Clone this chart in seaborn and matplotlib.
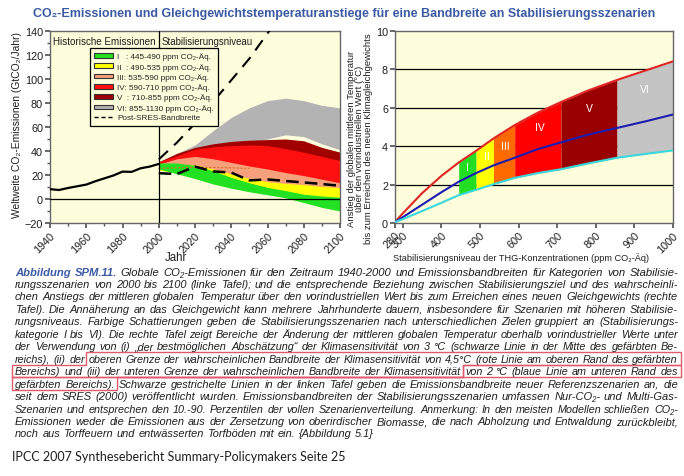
import numpy as np
import pandas as pd
import matplotlib
matplotlib.use("Agg")
import matplotlib.pyplot as plt
import seaborn as sns
from matplotlib import font_manager
from matplotlib.patches import Patch, Polygon
from matplotlib.lines import Line2D
from matplotlib.ticker import MultipleLocator

# === DATA: left panel (GtCO2 / Jahr) ===
hist_years = [1940, 1945, 1950, 1955, 1960, 1965, 1970, 1975, 1980, 1985, 1990, 1995, 2000]
hist_emis = [8.2, 7.5, 9.2, 10.6, 12.0, 14.8, 17.2, 19.6, 22.8, 22.6, 25.6, 27.0, 29.2]

sres_up_years = [2000, 2010, 2020, 2030, 2040, 2050, 2060, 2066]
sres_up = [33, 47, 63, 81, 99, 117, 138, 150]

scen_years = [2000, 2010, 2020, 2030, 2040, 2050, 2060, 2070, 2080, 2090, 2100]
sres_low = [21.5, 20.8, 27.0, 23.0, 22.0, 15.5, 16.3, 15.0, 13.8, 12.5, 11.0]
orange_years = [2000, 2010, 2020, 2030, 2040, 2050]
orange_vals = [25.5, 26.0, 26.5, 26.3, 26.0, 25.5]

band_I_low = [25, 21, 17, 12.5, 9, 6, 3.5, 1, -3, -7, -10]
band_I_up = [30, 30, 28, 23.5, 18, 13.5, 9.7, 7, 4, 2.5, 1.5]
band_II_low = [24, 22, 20, 16, 12, 9, 6, 4, 3, 2, 1]
band_II_up = [28, 29, 28.5, 25, 21, 17, 14.5, 13, 12, 10.5, 9.5]
band_III_low = [24, 24, 23, 20, 17, 14, 12, 11, 10, 9.5, 9]
band_III_up = [29, 33.5, 35.5, 33.5, 30.5, 27.5, 25, 22, 19.5, 16.5, 13.5]
band_IV_low = [26, 28, 29, 27, 25, 22, 20, 18, 16, 14, 12]
band_IV_up = [31, 36, 41.5, 43.5, 44.5, 45, 44.5, 42, 39, 35.5, 32]
band_V_low = [27, 31, 34, 36, 37, 38, 38, 36, 33, 30, 28]
band_V_up = [31, 38, 43, 46, 48, 49, 49.5, 50, 48.5, 43, 39]
band_VI_low = [29, 33, 38, 41, 44, 47, 50, 53.5, 52, 46, 41]
band_VI_up = [31, 38, 45, 57, 68, 76, 82, 84, 82, 78, 76]

cat_names = ["I   ", "II  ", "III", "IV", "V  ", "VI"]
cat_ranges = ["445-490", "490-535", "535-590", "590-710", "710-855", "855-1130"]

# === DATA: right panel (ppm CO2-Aeq, degC) ===
conc = [280, 300, 350, 400, 445, 490, 535, 590, 650, 710, 780, 855, 930, 1000]
t_high = [0.05, 0.5, 1.55, 2.45, 3.15, 3.76, 4.4, 5.1, 5.75, 6.3, 6.9, 7.45, 7.95, 8.42]
t_best = [0.05, 0.3, 0.95, 1.6, 2.15, 2.6, 3.0, 3.4, 3.85, 4.2, 4.6, 4.95, 5.3, 5.65]
t_low = [0.05, 0.2, 0.62, 1.05, 1.45, 1.73, 2.02, 2.35, 2.6, 2.8, 3.1, 3.4, 3.6, 3.78]
band_start = [445, 490, 535, 590, 710, 855]
band_end = [490, 535, 590, 710, 855, 1000]
roman = ["I", "II", "III", "IV", "V", "VI"]
lab_conc = [468, 517, 566, 655, 783, 928]
lab_temp = [2.9, 3.5, 4.0, 5.0, 6.0, 7.0]

TITLE = "CO\u2082-Emissionen und Gleichgewichtstemperaturanstiege für eine Bandbreite an Stabilisierungsszenarien"
caption_lines = [
    "Abbildung SPM.11. Globale CO\u2082-Emissionen für den Zeitraum 1940-2000 und Emissionsbandbreiten für Kategorien von Stabilisie-",
    "rungsszenarien von 2000 bis 2100 (linke Tafel); und die entsprechende Beziehung zwischen Stabilisierungsziel und des wahrscheinli-",
    "chen Anstiegs der mittleren globalen Temperatur über den vorindustriellen Wert bis zum Erreichen eines neuen Gleichgewichts (rechte",
    "Tafel). Die Annäherung an das Gleichgewicht kann mehrere Jahrhunderte dauern, insbesondere für Szenarien mit höheren Stabilisie-",
    "rungsniveaus. Farbige Schattierungen geben die Stabilisierungsszenarien nach unterschiedlichen Zielen gruppiert an (Stabilisierungs-",
    "kategorie I bis VI). Die rechte Tafel zeigt Bereiche der Änderung der mittleren globalen Temperatur oberhalb vorindustrieller Werte unter",
    "der Verwendung von (i) \u201eder bestmöglichen Abschätzung\u201c der Klimasensitivität von 3 °C (schwarze Linie in der Mitte des gefärbten Be-",
    "reichs), (ii) der oberen Grenze der wahrscheinlichen Bandbreite der Klimasensitivität von 4,5°C (rote Linie am oberen Rand des gefärbten",
    "Bereichs) und (iii) der unteren Grenze der wahrscheinlichen Bandbreite der Klimasensitivität von 2 °C (blaue Linie am unteren Rand des",
    "gefärbten Bereichs). Schwarze gestrichelte Linien in der linken Tafel geben die Emissionsbandbreite neuer Referenzszenarien an, die",
    "seit dem SRES (2000) veröffentlicht wurden. Emissionsbandbreiten der Stabilisierungsszenarien umfassen Nur-CO\u2082- und Multi-Gas-",
    "Szenarien und entsprechen den 10.-90. Perzentilen der vollen Szenarienverteilung. Anmerkung: In den meisten Modellen schließen CO\u2082-",
    "Emissionen weder die Emissionen aus der Zersetzung von oberirdischer Biomasse, die nach Abholzung und Entwaldung zurückbleibt,",
    "noch aus Torffeuern und entwässerten Torfböden mit ein. {Abbildung 5.1}",
]
FOOTER = "IPCC 2007 Synthesebericht Summary-Policymakers Seite 25"

# === STYLE ===
sns.set_theme(style="ticks")
FAM = ['Liberation Sans', 'DejaVu Sans']
plt.rcParams['font.family'] = FAM
installed = {f.name for f in font_manager.fontManager.ttflist}
NARROW = 'Liberation Sans Narrow' if 'Liberation Sans Narrow' in installed else 'Liberation Sans'

BLUE = '#3a5aa4'
TXT = '#1e1e1e'
BG = '#fdfcdb'
left_colors = ['#22e022', '#ffff00', '#f6a07c', '#ff1010', '#a00000', '#b3b3b3']
right_colors = ['#22dd22', '#ffff00', '#ff6a00', '#ff0000', '#990000', '#c4c4c4']

W, H = 684, 477
fig = plt.figure(figsize=(W / 100, H / 100), dpi=100)
fig.patch.set_facecolor('white')
rend = fig.canvas.get_renderer()


def fx(px):
    return px / W


def fy(py):
    return 1 - py / H


def tw(t):
    return t.get_window_extent(renderer=rend).width


def fit(t, target, vertical=False):
    bb = t.get_window_extent(renderer=rend)
    cur = bb.height if vertical else bb.width
    t.set_fontsize(t.get_fontsize() * target / cur)


# title
title = fig.text(fx(344), fy(14), TITLE, ha='center', va='center', fontsize=10,
                 fontweight='bold', color=BLUE)
fit(title, 622)

# === LEFT PANEL ===
axL = fig.add_axes([fx(50), fy(224), 290 / W, 192 / H])
axL.set_facecolor(BG)
lows = [band_I_low, band_II_low, band_III_low, band_IV_low, band_V_low, band_VI_low]
ups = [band_I_up, band_II_up, band_III_up, band_IV_up, band_V_up, band_VI_up]
for i in reversed(range(6)):
    axL.fill_between(scen_years, lows[i], ups[i], color=left_colors[i], lw=0, zorder=1)

sns.lineplot(x=hist_years, y=hist_emis, ax=axL, color='black', linewidth=1.6, zorder=4)
sns.lineplot(x=sres_up_years, y=sres_up, ax=axL, color='black', linewidth=1.5,
             linestyle=(0, (6, 4)), zorder=4)
sns.lineplot(x=scen_years, y=sres_low, ax=axL, color='black', linewidth=1.8,
             linestyle=(0, (5, 2.5)), zorder=4)
sns.lineplot(x=orange_years, y=orange_vals, ax=axL, color='#d8702a', linewidth=0.8,
             linestyle=(0, (2, 1.5)), zorder=3)
axL.axhline(0, color='black', lw=0.9, zorder=5)
axL.axvline(2000, color='black', lw=0.9, zorder=5)

axL.set_xlim(1940, 2100)
axL.set_ylim(-20, 140)
axL.xaxis.set_major_locator(MultipleLocator(20))
axL.xaxis.set_minor_locator(MultipleLocator(10))
axL.yaxis.set_major_locator(MultipleLocator(20))
axL.yaxis.set_minor_locator(MultipleLocator(10))
axL.tick_params(which='both', labelsize=7.8, color='#555', pad=1.5, labelcolor=TXT)
axL.tick_params(which='major', length=3.5)
axL.tick_params(which='minor', length=2)
for lab in axL.get_xticklabels():
    lab.set_rotation(45)
    lab.set_ha('right')
    lab.set_rotation_mode('anchor')
for sp in axL.spines.values():
    sp.set_color('#666')
    sp.set_linewidth(1)
axL.set_xlabel('')
axL.set_ylabel('')

t1 = axL.text(1941.5, 136, 'Historische Emissionen', ha='left', va='top', fontsize=8, color=TXT)
fit(t1, 103)
t2 = axL.text(2001.5, 136, 'Stabilisierungsniveau', ha='left', va='top', fontsize=8, color=TXT)
fit(t2, 92)

labels = [f"{n}: {r} ppm CO\u2082-Äq." for n, r in zip(cat_names, cat_ranges)] + ["Post-SRES-Bandbreite"]
handles = [Patch(facecolor=c, edgecolor='#333', linewidth=0.8) for c in left_colors]
handles.append(Line2D([], [], color='black', lw=1, linestyle=(0, (3, 2))))
leg = axL.legend(handles, labels, loc='upper left', bbox_to_anchor=((89.7 - 50) / 290, (224 - 49) / 192),
                 borderaxespad=0, borderpad=0.55, handlelength=2.3, handleheight=0.5,
                 handletextpad=0.5, labelspacing=0.3, fancybox=False, framealpha=1,
                 prop={'family': [NARROW, 'DejaVu Sans'], 'size': 5.9})
leg.get_frame().set_edgecolor('black')
leg.get_frame().set_facecolor(BG)
leg.get_frame().set_linewidth(0.9)
leg.set_zorder(6)

yl = fig.text(fx(17), fy(125), 'Weltweite CO\u2082-Emissionen (GtCO\u2082/Jahr)', rotation=90,
              ha='center', va='center', fontsize=8.5, color=TXT)
fit(yl, 186, vertical=True)
fig.text(fx(176), fy(258), 'Jahr', ha='center', va='center', fontsize=8.3, color=TXT)

# === RIGHT PANEL ===
axR = fig.add_axes([fx(395), fy(224), 278 / W, 192 / H])
axR.set_facecolor(BG)
for g in [2, 4, 6, 8]:
    axR.axhline(g, color='black', lw=0.9, zorder=0.5)
conc_arr = np.array(conc)
for i in range(6):
    m = (conc_arr >= band_start[i]) & (conc_arr <= band_end[i])
    axR.fill_between(conc_arr[m], np.array(t_low)[m], np.array(t_high)[m],
                     color=right_colors[i], lw=0, zorder=1)
sns.lineplot(x=conc, y=t_high, ax=axR, color='#e02424', linewidth=1.5, zorder=3)
sns.lineplot(x=conc, y=t_best, ax=axR, color='#1c1cb0', linewidth=1.5, zorder=3)
sns.lineplot(x=conc, y=t_low, ax=axR, color='#38d8dc', linewidth=1.5, zorder=3)
for r, xc, yc in zip(roman, lab_conc, lab_temp):
    axR.text(xc, yc, r, color='white', ha='center', va='center', fontsize=7.5, zorder=4)

axR.set_xlim(280, 1000)
axR.set_ylim(0, 10)
axR.set_xticks([280, 300, 400, 500, 600, 700, 800, 900, 1000])
axR.set_yticks([0, 2, 4, 6, 8, 10])
axR.tick_params(labelsize=7.8, color='#555', length=3.5, pad=1.5, labelcolor=TXT)
for lab in axR.get_xticklabels():
    lab.set_rotation(45)
    lab.set_ha('right')
    lab.set_rotation_mode('anchor')
for sp in axR.spines.values():
    sp.set_color('#666')
    sp.set_linewidth(1)
axR.set_xlabel('')
axR.set_ylabel('')

ryl = fig.text(fx(360), fy(139), 'Anstieg der globalen mittleren Temperatur\n'
               'über den vorindustriellen Wert (°C)\n'
               'bis zum Erreichen des neuen Klimagleichgewichts',
               rotation=90, ha='center', va='center', multialignment='center',
               fontsize=7, linespacing=0.98, color=TXT)
fit(ryl, 210, vertical=True)
rxl = fig.text(fx(521), fy(258), 'Stabilisierungsniveau der THG-Konzentrationen (ppm CO\u2082-Äq)',
               ha='center', va='center', fontsize=7.5, color=TXT)
fit(rxl, 252)

# === CAPTION (justified) ===
CAP_FS = 8.0
cap_left, cap_right = 15, 678
cap_top, cap_step = 272, 12.46
target = cap_right - cap_left
probe_a = fig.text(0, 0, 'a b', fontsize=CAP_FS, style='italic')
probe_b = fig.text(0, 0, 'ab', fontsize=CAP_FS, style='italic')
space_nat = tw(probe_a) - tw(probe_b)
probe_a.remove()
probe_b.remove()

line_objs = []
for k, line in enumerate(caption_lines):
    base = cap_top + k * cap_step + 3.5
    objs = []
    for i, w in enumerate(line.split(' ')):
        bold = (k == 0 and i < 2)
        t = fig.text(0, fy(base), w, fontsize=CAP_FS, style='italic',
                     fontweight='bold' if bold else 'normal',
                     color=BLUE if bold else TXT, ha='left', va='baseline')
        objs.append(t)
    line_objs.append(objs)

# per-line font scale so each line is filled with near-natural spacing
line_scale = [target / (sum(tw(t) for t in objs) + (len(objs) - 1) * space_nat * 1.1)
              for objs in line_objs[:-1]]
s_min = min(line_scale)
line_scale = [min(s, 1.14 * s_min) for s in line_scale]
line_scale.append(float(np.median(line_scale)))
word_pos = {}
for k, objs in enumerate(line_objs):
    base = cap_top + k * cap_step + 3.5
    s = line_scale[k]
    for t in objs:
        t.set_fontsize(CAP_FS * s)
    widths = [tw(t) for t in objs]
    last = (k == len(line_objs) - 1)
    gap = space_nat * s * 1.1 if last else (target - sum(widths)) / (len(objs) - 1)
    x = cap_left
    for i, (t, w) in enumerate(zip(objs, widths)):
        t.set_position((fx(x), fy(base)))
        word_pos[(k, i)] = (x, x + w)
        x += w + gap

# red highlight outlines
ln_ob, ln_von, ln_ber = 7, 8, 9
x_ob = word_pos[(ln_ob, caption_lines[ln_ob].split(' ').index('oberen'))][0] - 2
x_von = word_pos[(ln_von, caption_lines[ln_von].split(' ').index('von'))][0] - 2
x_ber = word_pos[(ln_ber, 1)][1] + 2
L, R = cap_left - 3, cap_right + 3
half = cap_step / 2


def top(k):
    return cap_top + k * cap_step - half + 0.5


t8, t9, t10, b10 = top(ln_ob), top(ln_von), top(ln_ber), top(ln_ber + 1)
poly1 = [(x_ob, t8), (R, t8), (R, t9), (x_von, t9), (x_von, t10), (L, t10), (L, t9), (x_ob, t9)]
poly2 = [(x_von, t9), (R, t9), (R, t10), (x_ber, t10), (x_ber, b10), (L, b10), (L, t10), (x_von, t10)]
for poly in (poly1, poly2):
    fig.add_artist(Polygon([(fx(a), fy(b)) for a, b in poly], closed=True, fill=False,
                           edgecolor='#e05a6a', lw=1.0, transform=fig.transFigure))

foot = fig.text(fx(12), fy(457), FOOTER, ha='left', va='center', fontsize=10,
                family=['Lato', 'DejaVu Sans'], color=TXT)
fit(foot, 333)

fig.savefig('out.png', dpi=100, facecolor='white')
